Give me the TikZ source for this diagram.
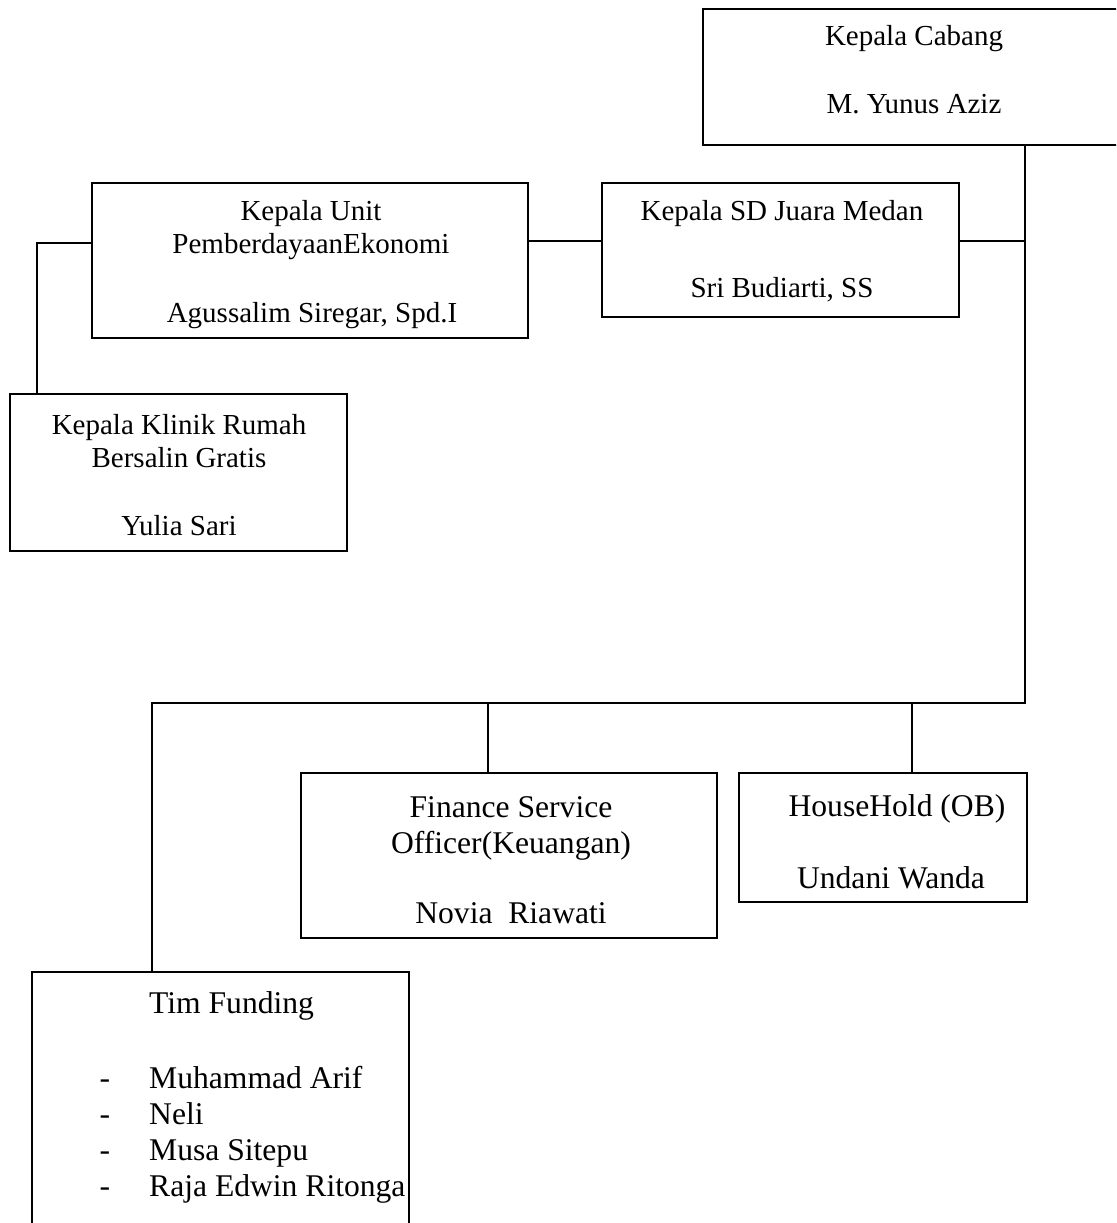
\documentclass[tikz,border=0pt]{standalone}
\usepackage{fontspec}
\setmainfont{Liberation Serif}
\begin{document}
\begin{tikzpicture}[x=1pt,y=-1pt,
  box/.style={draw=black,line width=1.6pt,rectangle,inner sep=0pt,outer sep=0pt,anchor=north west},
  conn/.style={draw=black,line width=1.6pt},
  tA/.style={inner sep=0pt,anchor=base,font=\fontsize{29}{33}\selectfont},
  tB/.style={inner sep=0pt,anchor=base,font=\fontsize{31.6}{36}\selectfont},
  tBw/.style={inner sep=0pt,anchor=base west,font=\fontsize{31.6}{36}\selectfont}]
\useasboundingbox (0,0) rectangle (1116,1223);
\clip (0,0) rectangle (1116,1223);
\fill[white] (0,0) rectangle (1116,1223);
% boxes
\node[box,minimum width=430,minimum height=136] (cabang) at (703,9) {};
\node[box,minimum width=436,minimum height=155] (unit) at (92,183) {};
\node[box,minimum width=357,minimum height=134] (sd) at (602,183) {};
\node[box,minimum width=337,minimum height=157] (klinik) at (10,394) {};
\node[box,minimum width=416,minimum height=165] (finance) at (301,773) {};
\node[box,minimum width=288,minimum height=129] (house) at (739,773) {};
\node[box,minimum width=377,minimum height=280] (tim) at (32,972) {};
% junction coordinates
\coordinate (trunk) at (1025,703);
\coordinate (tl) at (152,703);
\coordinate (sdj) at (1025,241);
\coordinate (usj) at (565,241);
\coordinate (jL) at (37,243);
\coordinate (bf) at (488,703);
\coordinate (bh) at (912,703);
% connectors
\draw[conn] (trunk |- cabang.south) -- (trunk) -- (tl) -- (tl |- tim.north);
\draw[conn] (sdj -| sd.east) -- (sdj);
\draw[conn] (usj -| unit.east) -- (usj -| sd.west);
\draw[conn] (jL -| unit.west) -- (jL) -- (jL |- klinik.north);
\draw[conn] (bf) -- (bf |- finance.north);
\draw[conn] (bh) -- (bh |- house.north);
% texts
\node[tA] (cab1) at (914,46) {Kepala Cabang};
\node[tA] (cab2) at (914,113) {M. Yunus Aziz};
\node[tA] (un1) at (311,220) {Kepala Unit};
\node[tA] (un2) at (311,253) {PemberdayaanEkonomi};
\node[tA] (un3) at (312,322) {Agussalim Siregar, Spd.I};
\node[tA] (sd1) at (782,220) {Kepala SD Juara Medan};
\node[tA] (sd2) at (782,297) {Sri Budiarti, SS};
\node[tA] (kl1) at (179,434) {Kepala Klinik Rumah};
\node[tA] (kl2) at (179,467) {Bersalin Gratis};
\node[tA] (kl3) at (179,535) {Yulia Sari};
\node[tB] (fi1) at (511,817) {Finance Service};
\node[tB] (fi2) at (511,853) {Officer(Keuangan)};
\node[tB] (fi3) at (511,923) {Novia\ \ Riawati};
\node[tB] (ho1) at (897,816) {HouseHold (OB)};
\node[tB] (ho2) at (891,888) {Undani Wanda};
\node[tBw] (ti0) at (149,1013) {Tim Funding};
\node[tB] (d1) at (105,1088) {-};
\node[tB] (d2) at (105,1124) {-};
\node[tB] (d3) at (105,1160) {-};
\node[tB] (d4) at (105,1196) {-};
\node[tBw] (ti1) at (149,1088) {Muhammad Arif};
\node[tBw] (ti2) at (149,1124) {Neli};
\node[tBw] (ti3) at (149,1160) {Musa Sitepu};
\node[tBw] (ti4) at (149,1196) {Raja Edwin Ritonga};
\end{tikzpicture}
\end{document}
